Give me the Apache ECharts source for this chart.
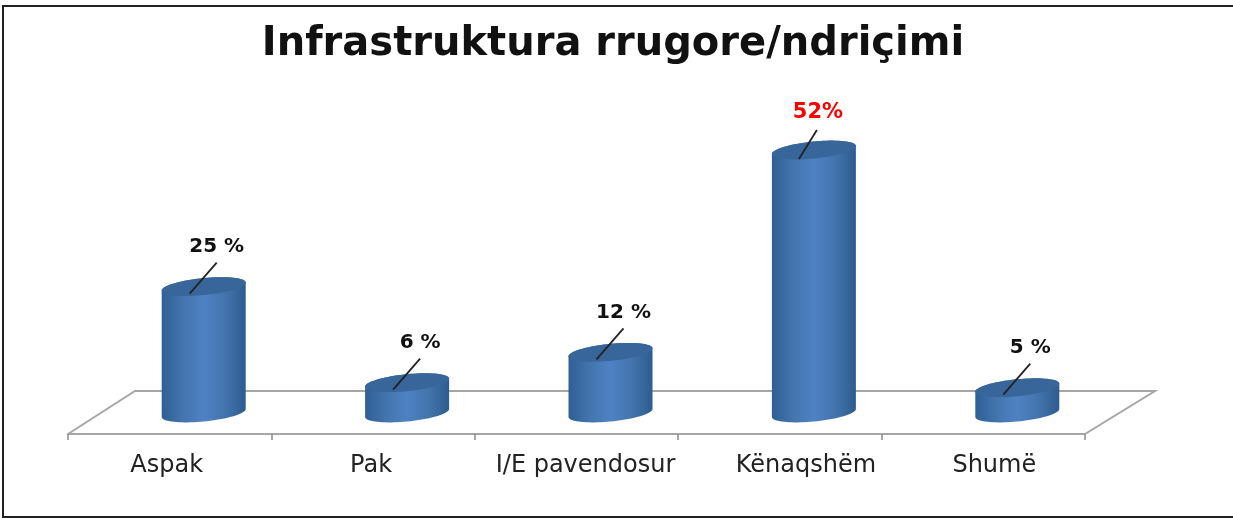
<!DOCTYPE html>
<html>
<head>
    <meta charset='utf-8' />
    <title>Infrastruktura rrugore/ndriçimi</title>
    <script src="https://cdn.jsdelivr.net/npm/echarts@6/dist/echarts.min.js"></script>
    <style>
        html, body { margin: 0; padding: 0; background: #fff; }
    </style>
</head>
<body>
<div id='bar' style='width:1233px;height:518px;'></div>

<script type='text/javascript'>
    var categories = ['Aspak', 'Pak', 'I/E pavendosur', 'Kënaqshëm', 'Shumë'];
    var values = [25, 6, 12, 52, 5];
    var valueLabels = ['25 %', '6 %', '12 %', '52%', '5 %'];
    var redIndex = 3;

    var FONT = '"DejaVu Sans", sans-serif';

    // the source labels are not centred on their bands, px left(-) / right(+)
    var labelNudge = [-3, -2, 9, 26, 11];

    // cylinder outline, sheared a little so the left end sits lower than the right
    function ellipsePoint(cx, cy, t) {
        return [cx + 42 * Math.cos(t), cy + 8.5 * Math.sin(t) - 4 * Math.cos(t)];
    }

    function renderCylinder(params, api) {
        var i = api.value(0);
        var top = api.coord([i, api.value(1)]);
        var base = api.coord([i, 0]);
        var cx = top[0];
        var body = [];
        var cap = [];
        var k;
        for (k = 0; k <= 40; k++) {
            body.push(ellipsePoint(cx, base[1], Math.PI * k / 40));
        }
        for (k = 0; k <= 40; k++) {
            body.push(ellipsePoint(cx, top[1], Math.PI + Math.PI * k / 40));
        }
        for (k = 0; k < 80; k++) {
            cap.push(ellipsePoint(cx, top[1], Math.PI * 2 * k / 80));
        }

        var isRed = i === redIndex;
        var lineEnd = isRed ? [cx + 3, top[1] - 20] : [cx + 13, top[1] - 24];
        var lineStart = isRed ? [cx - 15, top[1] + 9] : [cx - 14, top[1] + 7];
        var labelPos = isRed ? [cx + 4, top[1] - 37] : [cx + 13, top[1] - 40];

        return {
            type: 'group',
            children: [
                {
                    type: 'polygon',
                    shape: { points: body },
                    style: {
                        fill: {
                            type: 'linear', x: 0, y: 0, x2: 1, y2: 0,
                            colorStops: [
                                { offset: 0, color: '#2f5f94' },
                                { offset: 0.25, color: '#4374ad' },
                                { offset: 0.5, color: '#4f82c4' },
                                { offset: 0.75, color: '#4374ad' },
                                { offset: 1, color: '#2e5c90' }
                            ]
                        }
                    }
                },
                {
                    type: 'polygon',
                    shape: { points: cap },
                    style: { fill: '#38659a' }
                },
                {
                    type: 'line',
                    shape: { x1: lineStart[0], y1: lineStart[1], x2: lineEnd[0], y2: lineEnd[1] },
                    style: { stroke: '#222222', lineWidth: 1.8 }
                },
                {
                    type: 'text',
                    style: {
                        x: labelPos[0],
                        y: labelPos[1],
                        text: valueLabels[i],
                        align: 'center',
                        verticalAlign: 'middle',
                        font: 'bold ' + (isRed ? 21 : 20) + 'px ' + FONT,
                        fill: isRed ? '#ff0000' : '#111111'
                    }
                }
            ]
        };
    }

    var option = {
        animation: false,
        backgroundColor: '#ffffff',
        title: {
            text: 'Infrastruktura rrugore/ndriçimi',
            left: 608,
            top: 20,
            textAlign: 'center',
            textStyle: { fontFamily: FONT, fontWeight: 'bold', fontSize: 40, color: '#111111' }
        },
        // floor of the 3D plot plus the outer frame (open on the right)
        graphic: [
            {
                type: 'polyline',
                z: 0,
                shape: { points: [[68, 434], [135, 391], [1155, 391], [1085, 434]] },
                style: { stroke: '#a6a6a6', lineWidth: 2, fill: 'none' }
            },
            {
                type: 'polyline',
                z: 0,
                shape: { points: [[1233, 6], [3, 6], [3, 517], [1233, 517]] },
                style: { stroke: '#222222', lineWidth: 2, fill: 'none' }
            }
        ],
        grid: [
            { left: 68, width: 1017, top: 100, height: 334 },
            { left: 102, width: 1017, top: 150, height: 263 }
        ],
        xAxis: [
            {
                type: 'category',
                gridIndex: 0,
                data: categories.map(function (c, i) {
                    var n = labelNudge[i];
                    return {
                        value: c,
                        textStyle: { padding: n > 0 ? [0, 0, 0, n * 2] : [0, -n * 2, 0, 0] }
                    };
                }),
                axisLine: { lineStyle: { color: '#a6a6a6', width: 2 } },
                axisTick: { show: true, length: 6, alignWithLabel: false, lineStyle: { color: '#8c8c8c', width: 1.5 } },
                axisLabel: { fontFamily: FONT, fontSize: 24, color: '#222222', margin: 20, interval: 0 }
            },
            {
                type: 'category',
                gridIndex: 1,
                data: categories,
                show: false
            }
        ],
        yAxis: [
            { type: 'value', gridIndex: 0, show: false, min: 0, max: 1, splitLine: { show: false } },
            { type: 'value', gridIndex: 1, show: false, min: 0, max: 52, splitLine: { show: false } }
        ],
        series: [
            {
                type: 'custom',
                xAxisIndex: 1,
                yAxisIndex: 1,
                z: 5,
                clip: false,
                renderItem: renderCylinder,
                data: values.map(function (v, i) { return [i, v]; })
            }
        ]
    };

    var myChart = echarts.init(document.getElementById('bar'));
    myChart.setOption(option);
</script>
</body>
</html>
